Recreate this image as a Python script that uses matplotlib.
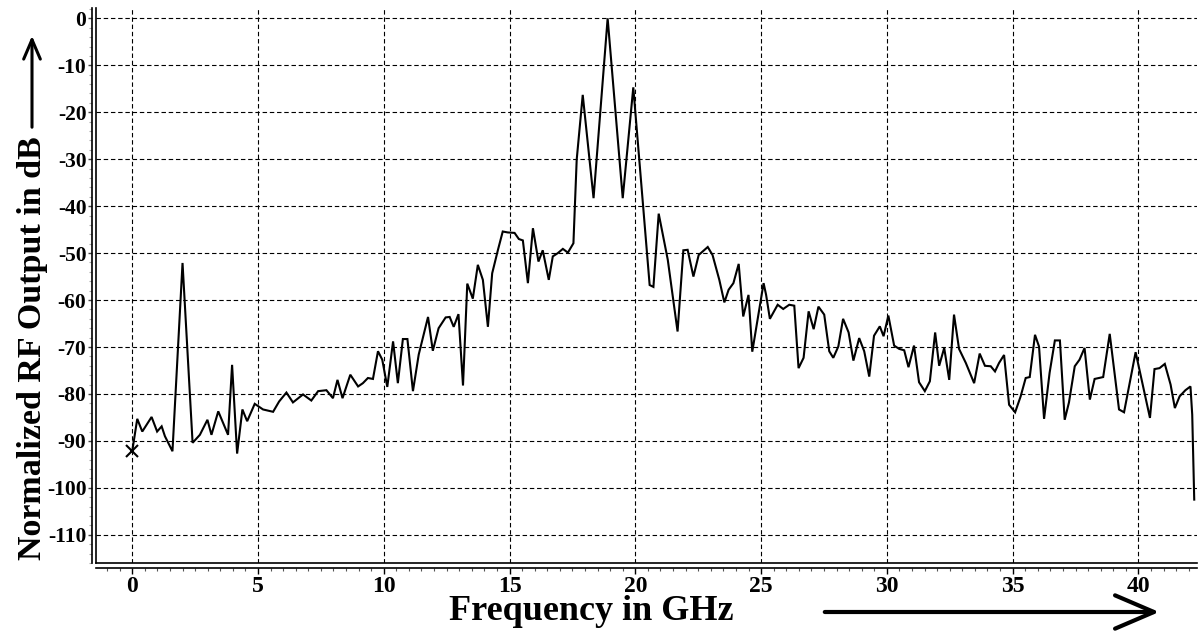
import matplotlib
matplotlib.use("Agg")
import matplotlib.pyplot as plt
from matplotlib.patches import FancyArrowPatch
from matplotlib.ticker import MultipleLocator, FuncFormatter

plt.rcParams['font.family'] = ['Liberation Serif', 'DejaVu Serif']
plt.rcParams['axes.unicode_minus'] = False

freq_ghz = [0.00, 0.20, 0.40, 0.77, 0.99, 1.17, 1.30, 1.60, 2.00, 2.40,
            2.69, 2.99, 3.15, 3.42, 3.81, 3.97, 4.17, 4.38, 4.57, 4.87,
            5.20, 5.60, 5.84, 6.13, 6.39, 6.79, 7.12, 7.39, 7.72, 7.98,
            8.16, 8.36, 8.67, 8.98, 9.17, 9.37, 9.57, 9.77, 9.94, 10.14,
            10.37, 10.56, 10.76, 10.94, 11.16, 11.39, 11.76, 11.95, 12.18, 12.46,
            12.62, 12.78, 12.97, 13.15, 13.32, 13.54, 13.74, 13.94, 14.14, 14.31,
            14.54, 14.73, 14.93, 15.20, 15.37, 15.53, 15.73, 15.93, 16.15, 16.32,
            16.56, 16.72, 16.92, 17.12, 17.32, 17.54, 17.67, 17.91, 18.34, 18.90,
            19.50, 19.92, 20.57, 20.72, 20.93, 21.29, 21.68, 21.91, 22.08, 22.31,
            22.52, 22.88, 23.07, 23.34, 23.54, 23.71, 23.90, 24.11, 24.29, 24.50,
            24.65, 25.10, 25.20, 25.35, 25.66, 25.88, 26.12, 26.32, 26.49, 26.69,
            26.89, 27.09, 27.28, 27.51, 27.71, 27.87, 28.07, 28.26, 28.48, 28.67,
            28.90, 29.10, 29.30, 29.49, 29.72, 29.87, 30.06, 30.29, 30.49, 30.69,
            30.86, 31.08, 31.28, 31.51, 31.71, 31.92, 32.08, 32.28, 32.48, 32.67,
            32.87, 33.14, 33.47, 33.69, 33.90, 34.13, 34.30, 34.46, 34.66, 34.86,
            35.10, 35.32, 35.52, 35.68, 35.89, 36.05, 36.25, 36.47, 36.68, 36.88,
            37.07, 37.24, 37.47, 37.66, 37.86, 38.07, 38.26, 38.60, 38.86, 39.23,
            39.43, 39.89, 40.46, 40.64, 40.84, 41.05, 41.28, 41.45, 41.64, 41.87,
            42.07, 42.14, 42.22]

level_db = [-92.2, -85.3, -88.0, -84.9, -88.0, -86.9, -89.0, -92.2, -52.1, -90.4,
            -88.7, -85.5, -88.7, -83.7, -88.7, -73.8, -92.7, -83.3, -85.8, -82.1,
            -83.3, -83.8, -81.6, -79.7, -81.8, -80.1, -81.4, -79.4, -79.2, -80.9,
            -77.0, -80.9, -75.9, -78.4, -77.7, -76.6, -76.8, -70.9, -72.7, -78.5,
            -68.8, -77.7, -68.3, -68.3, -79.4, -71.6, -63.6, -70.8, -66.0, -63.7,
            -63.6, -65.7, -63.0, -78.2, -56.5, -59.7, -52.5, -55.7, -65.7, -54.3,
            -49.3, -45.4, -45.6, -45.7, -47.0, -47.3, -56.4, -44.7, -51.8, -49.4,
            -55.7, -50.7, -50.0, -49.1, -49.9, -47.9, -30.1, -16.3, -38.3, 0.0,
            -38.3, -14.7, -56.8, -57.2, -41.6, -51.4, -66.7, -49.4, -49.3, -55.0,
            -50.4, -48.7, -50.4, -55.7, -60.5, -57.8, -56.4, -52.3, -63.5, -58.9,
            -71.0, -56.4, -58.9, -64.0, -61.0, -61.9, -61.0, -61.2, -74.5, -72.3,
            -62.4, -66.2, -61.4, -63.1, -70.9, -72.3, -69.9, -64.0, -66.9, -72.9,
            -68.1, -70.9, -76.3, -67.6, -65.6, -67.7, -63.3, -69.7, -70.4, -70.7,
            -74.3, -69.7, -77.5, -79.4, -77.3, -66.9, -74.0, -70.2, -77.0, -63.1,
            -70.4, -73.4, -77.7, -71.4, -74.0, -74.1, -75.2, -73.4, -71.7, -82.3,
            -83.9, -80.5, -76.6, -76.4, -67.4, -69.9, -85.3, -75.5, -68.6, -68.6,
            -85.5, -81.8, -74.1, -72.7, -70.2, -81.2, -76.8, -76.4, -67.2, -83.3,
            -83.9, -71.1, -85.1, -74.7, -74.5, -73.6, -78.0, -83.0, -80.5, -79.2,
            -78.4, -84.4, -102.5]

x_ticks = [0, 5, 10, 15, 20, 25, 30, 35, 40]
y_ticks = [0, -10, -20, -30, -40, -50, -60, -70, -80, -90, -100, -110]

W, H = 1204, 639
fig = plt.figure(figsize=(W / 100, H / 100), dpi=100)
fig.patch.set_facecolor('white')
ax = fig.add_axes([96 / W, (H - 563) / H, (1197 - 96) / W, (563 - 8) / H])

ax.plot(freq_ghz, level_db, color='black', lw=1.5, solid_joinstyle='miter', zorder=3)
ax.plot(freq_ghz[0], level_db[0], marker='x', ms=9, mew=1.5, color='black', zorder=4)

ax.set_xlim(-1.44, 42.33)
ax.set_ylim(-116, 2.2)
ax.set_xticks(x_ticks)
ax.set_yticks(y_ticks)
ax.xaxis.set_minor_locator(MultipleLocator(0.5))
ax.yaxis.set_minor_locator(MultipleLocator(2))
ax.yaxis.set_major_formatter(FuncFormatter(lambda v, p: '%d' % round(v)))
ax.xaxis.set_major_formatter(FuncFormatter(lambda v, p: '%d' % round(v)))

ax.grid(True, which='major', color='black', linestyle=(0, (4, 2.5)), linewidth=0.8, zorder=1)

for s in ('top', 'right'):
    ax.spines[s].set_visible(False)
ax.spines['left'].set_position(('outward', 2.9))
ax.spines['bottom'].set_position(('outward', 3.4))
ax.spines['left'].set_linewidth(1.2)
ax.spines['bottom'].set_linewidth(1.2)
# inner frame lines
ax.plot([0, 0], [0, 1], transform=ax.transAxes, color='black', lw=1.2, clip_on=False, zorder=5)
ax.plot([0, 1], [0, 0], transform=ax.transAxes, color='black', lw=1.2, clip_on=False, zorder=5)

ax.tick_params(axis='x', which='major', direction='out', length=4, width=1, color='black',
               labelsize=17, pad=2)
ax.tick_params(axis='x', which='minor', direction='out', length=2.5, width=0.8, color='#555555')
ax.tick_params(axis='y', which='major', direction='out', length=3, width=1, color='#444444',
               labelsize=15.5, pad=1)
ax.tick_params(axis='y', which='minor', direction='out', length=2, width=0.8, color='#aaaaaa')
for lab in ax.get_xticklabels() + ax.get_yticklabels():
    lab.set_fontweight('bold')

fig.text(33 / W, 1 - 348 / H, 'Normalized RF Output in dB', rotation=90, fontsize=24.5,
         fontweight='bold', ha='center', va='center')
fig.text(591 / W, 1 - 612 / H, 'Frequency in GHz', fontsize=26, fontweight='bold',
         ha='center', va='center')

ya = FancyArrowPatch((32 / W, 1 - 130 / H), (32 / W, 1 - 33 / H), transform=fig.transFigure,
                     arrowstyle='->,head_length=14,head_width=6', mutation_scale=1,
                     lw=2.2, color='black')
fig.patches.append(ya)
xa = FancyArrowPatch((822 / W, 1 - 612 / H), (1162 / W, 1 - 612 / H), transform=fig.transFigure,
                     arrowstyle='->,head_length=28,head_width=12', mutation_scale=1,
                     lw=3, color='black')
fig.patches.append(xa)

fig.savefig('out.png', dpi=100, facecolor='white')
